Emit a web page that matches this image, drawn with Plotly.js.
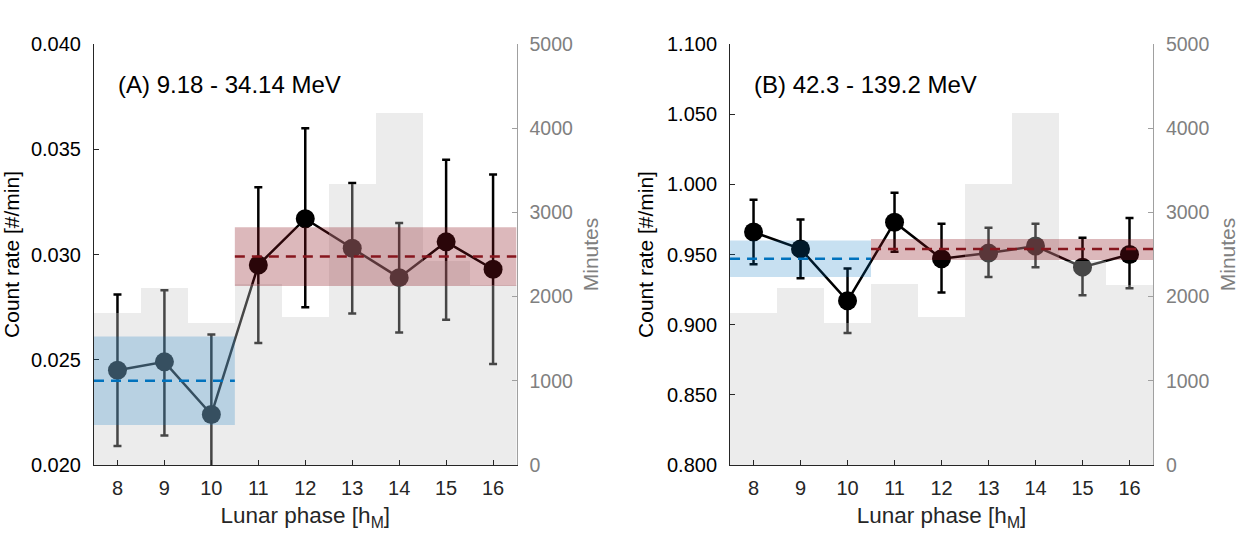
<!DOCTYPE html>
<html>
<head>
<meta charset="utf-8">
<script src="https://cdn.plot.ly/plotly-3.0.1.min.js"></script>
<style>
  body { margin: 0; background: #fff; }
  #chart { width: 1246px; height: 539px; }
</style>
</head>
<body>
<div id="chart"></div>
<script>
// Lunar phase bins [h_M]
var phase = [8, 9, 10, 11, 12, 13, 14, 15, 16];

// Exposure time per bin (same for both energy ranges) [min]
var minutes = [1805, 2100, 1686, 2150, 1760, 3335, 4180, 2420, 2140];

// (A) 9.18 - 34.14 MeV: count rate and error bar ends
var rateA  = [0.0245, 0.0249, 0.0224, 0.0295, 0.0317, 0.0303, 0.0289, 0.0306, 0.0293];
var upperA = [0.0281, 0.0283, 0.0262, 0.0332, 0.0360, 0.0334, 0.0315, 0.0345, 0.0338];
var lowerA = [0.0209, 0.0214, 0.0187, 0.0258, 0.0275, 0.0272, 0.0263, 0.0269, 0.0248];

// (B) 42.3 - 139.2 MeV
var rateB  = [0.966, 0.954, 0.917, 0.973, 0.947, 0.951, 0.956, 0.941, 0.950];
var upperB = [0.989, 0.975, 0.940, 0.994, 0.972, 0.969, 0.972, 0.962, 0.976];
var lowerB = [0.943, 0.933, 0.894, 0.952, 0.923, 0.934, 0.941, 0.921, 0.926];

// Two phase groups (8-10 and 11-16): mean rate and its band
var groupFirst = [8, 11];
var groupLast  = [10, 16];
var meanA   = [0.0240, 0.0299];
var bandLoA = [0.0219, 0.0285];
var bandHiA = [0.0261, 0.0313];
var meanB   = [0.947, 0.954];
var bandLoB = [0.934, 0.946];
var bandHiB = [0.960, 0.961];

var tickA = [0.020, 0.025, 0.030, 0.035, 0.040];
var tickB = [0.800, 0.850, 0.900, 0.950, 1.000, 1.050, 1.100];
var tickMin = [0, 1000, 2000, 3000, 4000, 5000];

var groupFill = ['rgba(0,114,189,0.22)', 'rgba(140,20,30,0.3)'];
var groupLine = ['#0072BD', '#86161e'];

var FONT = 'Liberation Sans, Arial, Helvetica, sans-serif';
var INK = '#262626';
var GREY = '#808080';

function diff(a, b) {
  return a.map(function(v, i) { return +(v - b[i]).toFixed(6); });
}

function rateTrace(rate, upper, lower, xa, ya) {
  return {
    x: phase, y: rate, xaxis: xa, yaxis: ya,
    type: 'scatter', mode: 'lines+markers',
    line: { color: '#000', width: 2.5 },
    marker: { color: '#000', size: 19 },
    error_y: {
      type: 'data', symmetric: false,
      array: diff(upper, rate), arrayminus: diff(rate, lower),
      color: '#000', thickness: 2.5, width: 4
    },
    hoverinfo: 'x+y', showlegend: false
  };
}

function minutesTrace(xa, ya) {
  return {
    x: phase, y: minutes, xaxis: xa, yaxis: ya,
    type: 'bar', width: 1,
    marker: { color: 'rgba(200,200,200,0.35)', line: { width: 0 } },
    hoverinfo: 'x+y', showlegend: false
  };
}

// bands and dashed mean lines sit on top of everything, like the original
function groupShapes(mean, lo, hi, xa, ya) {
  var s = [];
  for (var g = 0; g < mean.length; g++) {
    s.push({
      type: 'rect', xref: xa, yref: ya, layer: 'above',
      x0: groupFirst[g] - 0.5, x1: groupLast[g] + 0.5, y0: lo[g], y1: hi[g],
      fillcolor: groupFill[g], line: { width: 0 }
    });
    s.push({
      type: 'line', xref: xa, yref: ya, layer: 'above',
      x0: groupFirst[g] - 0.5, x1: groupLast[g] + 0.5, y0: mean[g], y1: mean[g],
      line: { color: groupLine[g], width: 2.5, dash: '10px,7px' }
    });
  }
  return s;
}

function phaseAxis(domain, anchor) {
  return {
    domain: domain, anchor: anchor, range: [7.5, 16.5],
    tickvals: phase, ticks: 'inside', ticklen: 5, tickcolor: INK,
    showline: true, linecolor: INK, linewidth: 1,
    showgrid: false, zeroline: false, ticklabelstandoff: 5,
    tickfont: { family: FONT, size: 20, color: INK },
    title: { text: 'Lunar phase [h<sub>M</sub>]', standoff: 9,
             font: { family: FONT, size: 22.5, color: INK } }
  };
}

function topAxis(over, anchor) {
  return {
    overlaying: over, anchor: anchor, side: 'top', range: [7.5, 16.5],
    tickvals: phase, ticks: 'inside', ticklen: 4, tickcolor: '#999',
    showline: true, linecolor: '#999', linewidth: 1,
    showticklabels: false, showgrid: false, zeroline: false
  };
}

function rateAxis(range, ticks, anchor) {
  return {
    anchor: anchor, range: range, tickvals: ticks, tickformat: '.3f',
    ticks: 'inside', ticklen: 5, tickcolor: INK,
    showline: true, linecolor: INK, linewidth: 1,
    showgrid: false, zeroline: false, ticklabelstandoff: 8,
    tickfont: { family: FONT, size: 20, color: '#000' },
    title: { text: 'Count rate [#/min]', standoff: 7,
             font: { family: FONT, size: 21, color: '#000' } }
  };
}

function minutesAxis(over, anchor) {
  return {
    overlaying: over, anchor: anchor, side: 'right', range: [0, 5000],
    tickvals: tickMin, ticks: 'inside', ticklen: 5, tickcolor: '#a0a0a0',
    showline: true, linecolor: '#a0a0a0', linewidth: 1,
    showgrid: false, zeroline: false, ticklabelstandoff: 8,
    tickfont: { family: FONT, size: 19.5, color: GREY },
    title: { text: 'Minutes', standoff: 11,
             font: { family: FONT, size: 21, color: GREY } }
  };
}

var data = [
  rateTrace(rateA, upperA, lowerA, 'x', 'y'),
  minutesTrace('x', 'y2'),
  rateTrace(rateB, upperB, lowerB, 'x2', 'y3'),
  minutesTrace('x2', 'y4')
];

var layout = {
  width: 1246, height: 539,
  margin: { l: 94, r: 93, t: 44, b: 74 },
  paper_bgcolor: '#fff', plot_bgcolor: 'rgba(0,0,0,0)',
  font: { family: FONT, color: INK },
  bargap: 0,
  xaxis: phaseAxis([0, 0.399], 'y'),
  xaxis2: phaseAxis([0.6006, 1], 'y3'),
  xaxis3: topAxis('x', 'y'),
  xaxis4: topAxis('x2', 'y3'),
  yaxis: rateAxis([0.020, 0.040], tickA, 'x'),
  yaxis2: minutesAxis('y', 'x'),
  yaxis3: rateAxis([0.800, 1.100], tickB, 'x2'),
  yaxis4: minutesAxis('y3', 'x2'),
  shapes: groupShapes(meanA, bandLoA, bandHiA, 'x', 'y')
    .concat(groupShapes(meanB, bandLoB, bandHiB, 'x2', 'y3')),
  annotations: [
    { text: '(A) 9.18 - 34.14 MeV', xref: 'x domain', yref: 'y domain',
      x: 0.053, y: 0.903, xanchor: 'left', yanchor: 'middle', showarrow: false,
      font: { family: FONT, size: 24, color: '#000' } },
    { text: '(B) 42.3 - 139.2 MeV', xref: 'x2 domain', yref: 'y3 domain',
      x: 0.051, y: 0.903, xanchor: 'left', yanchor: 'middle', showarrow: false,
      font: { family: FONT, size: 24, color: '#000' } }
  ]
};

Plotly.newPlot('chart', data, layout, { displayModeBar: false, staticPlot: true });
</script>
</body>
</html>
